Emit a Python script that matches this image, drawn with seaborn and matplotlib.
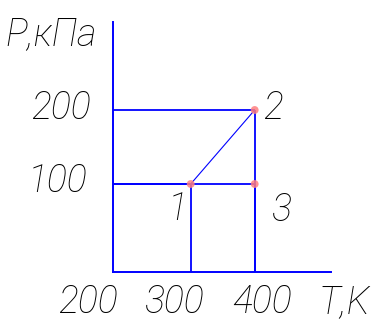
import matplotlib
matplotlib.use('Agg')
import matplotlib.pyplot as plt
import seaborn as sns
import pandas as pd

# состояния газа
states = ['1', '2', '3']
T_vals = [300, 400, 400]
P_vals = [100, 200, 100]

x_ticks = [200, 300, 400]
y_ticks = [100, 200]
x_title = 'T,K'
y_title = 'P,кПа'

df = pd.DataFrame({'T': T_vals, 'P': P_vals, 'state': states})

sns.set_style('white')
plt.rcParams['font.family'] = ['Roboto', 'DejaVu Sans']
font = dict(fontsize=27, style='italic', weight='light', color='black',
            ha='center', va='center')

fig = plt.figure(figsize=(3.75, 3.2), dpi=100)
ax = fig.add_axes([0.3005, 0.15, 0.5813, 0.78125])
ax.set_xlim(178.1, 518.75)
ax.set_ylim(-18.9, 318.9)

x0 = ax.get_xlim()[0]
y0 = ax.get_ylim()[0]

# вспомогательные линии до осей
ax.hlines(df['P'], x0, df['T'], color='blue', lw=1.3, zorder=2)
ax.vlines(df['T'], y0, df['P'], color='blue', lw=1.3, zorder=2)

# процесс 1-2
sns.lineplot(data=df[df['state'].isin(['1', '2'])], x='T', y='P', color='blue',
             lw=0.8, ax=ax, zorder=3)
sns.scatterplot(data=df, x='T', y='P', color='#ff7f7f', s=32, edgecolor='none',
                alpha=0.85, ax=ax, zorder=4)

ax.set_xticks([])
ax.set_yticks([])
ax.set_xlabel('')
ax.set_ylabel('')
for side in ['top', 'right']:
    ax.spines[side].set_visible(False)
for side in ['left', 'bottom']:
    ax.spines[side].set_color('blue')
    ax.spines[side].set_linewidth(1.4)

# подписи точек
state_offsets = {'1': (-13, -25), '2': (19, 2), '3': (26, -26)}
for _, r in df.iterrows():
    ax.annotate(r['state'], (r['T'], r['P']), xytext=state_offsets[r['state']],
                textcoords='offset pixels', annotation_clip=False, **font)

# подписи осей
x_offsets = [-38, -17, 7]
for t, dx in zip(x_ticks, x_offsets):
    ax.annotate(str(t), (t, y0), xytext=(dx, -30), textcoords='offset pixels',
                annotation_clip=False, **font)
y_offsets = [(-55, 3), (-51, 2)]
for p, (dx, dy) in zip(y_ticks, y_offsets):
    ax.annotate(str(p), (x0, p), xytext=(dx, dy), textcoords='offset pixels',
                annotation_clip=False, **font)

ax.annotate(y_title, (0, 1), xycoords='axes fraction', xytext=(-62, -12),
            textcoords='offset pixels', **font)
ax.annotate(x_title, (1, 0), xycoords='axes fraction', xytext=(14, -30),
            textcoords='offset pixels', **font)

fig.savefig('out.png', dpi=100)
